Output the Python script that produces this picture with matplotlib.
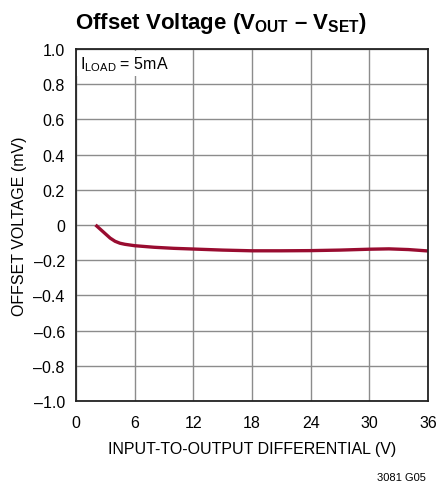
import matplotlib
matplotlib.use("Agg")
import matplotlib.pyplot as plt
import numpy as np

# curve
diff_v = [2.0, 2.5, 3.0, 3.5, 4.0, 4.5, 5.0, 6.0, 8.0, 10.0, 12.0, 15.0, 18.0, 21.0, 24.0, 27.0, 30.0, 32.0, 34.0, 36.0]
offset_mv = [0.0, -0.025, -0.05, -0.075, -0.093, -0.104, -0.11, -0.118, -0.127, -0.133, -0.137, -0.143, -0.147, -0.147, -0.146, -0.143, -0.138, -0.136, -0.14, -0.148]

xticks = [0, 6, 12, 18, 24, 30, 36]
yticks = [-1.0, -0.8, -0.6, -0.4, -0.2, 0.0, 0.2, 0.4, 0.6, 0.8, 1.0]

FONT = ["Liberation Sans", "DejaVu Sans"]
plt.rcParams["font.family"] = FONT
plt.rcParams["mathtext.fontset"] = "custom"
plt.rcParams["mathtext.rm"] = "Liberation Sans"
plt.rcParams["mathtext.bf"] = "Liberation Sans:bold"


def fmt(v):
    if abs(v) < 1e-9:
        return "0"
    s = f"{abs(v):.1f}"
    return ("\u2013" + s) if v < 0 else s


fig = plt.figure(figsize=(4.39, 4.89), dpi=100)
ax = fig.add_axes([0.173, 0.178, 0.802, 0.72])

ax.plot(diff_v, offset_mv, color="#990c30", lw=2.4, solid_capstyle="butt")

ax.set_xlim(0, 36)
ax.set_ylim(-1.0, 1.0)
ax.set_xticks(xticks)
ax.set_xticklabels([str(t) for t in xticks])
ax.set_yticks(yticks)
ax.set_yticklabels([fmt(t) for t in yticks])
ax.tick_params(axis="x", length=0, labelsize=11.5, pad=10)
ax.tick_params(axis="y", length=0, labelsize=11.5, pad=8)
ax.grid(True, color="#8c8c8c", lw=1.0)
ax.set_axisbelow(True)
for sp in ax.spines.values():
    sp.set_linewidth(1.3)
    sp.set_color("#222222")

ax.set_xlabel("INPUT-TO-OUTPUT DIFFERENTIAL (V)", fontsize=11.5, labelpad=8)
ax.set_ylabel("OFFSET VOLTAGE (mV)", fontsize=11.5, labelpad=5)

ax.text(0.012, 0.985, r"I$_{\mathrm{LOAD}}$ = 5mA", transform=ax.transAxes,
        ha="left", va="top", fontsize=11.5,
        bbox=dict(facecolor="white", edgecolor="none", pad=2.5))

title = "Offset Voltage (V$_{\\mathbf{OUT}}$ \u2013 V$_{\\mathbf{SET}}$)"
fig.text(0.503, 0.952, title, ha="center", va="center", fontsize=16, fontweight="bold")
fig.text(0.970, 0.012, "3081 G05", ha="right", va="bottom", fontsize=8)

fig.savefig("out.png", dpi=100)
